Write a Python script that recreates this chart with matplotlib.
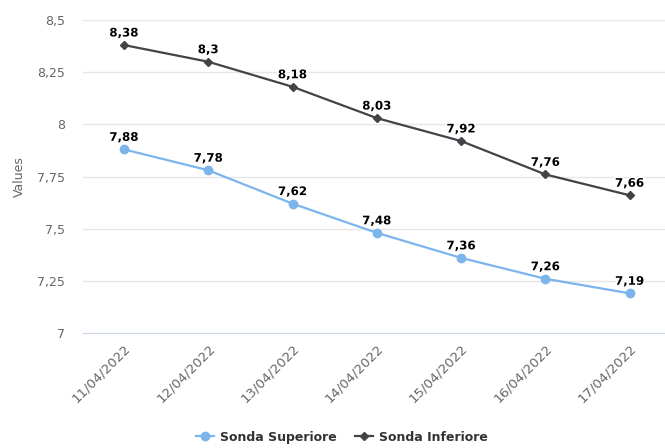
import matplotlib.pyplot as plt
import matplotlib.patheffects as pe
from matplotlib.lines import Line2D

dates = ["11/04/2022", "12/04/2022", "13/04/2022", "14/04/2022",
         "15/04/2022", "16/04/2022", "17/04/2022"]
superiore = [7.88, 7.78, 7.62, 7.48, 7.36, 7.26, 7.19]
inferiore = [8.38, 8.3, 8.18, 8.03, 7.92, 7.76, 7.66]
yticks = [7, 7.25, 7.5, 7.75, 8, 8.25, 8.5]

blue = "#7cb5ec"
dark = "#434348"

fig = plt.figure(figsize=(6.65, 4.48), dpi=100)
ax = fig.add_axes([83 / 665, 115 / 448, 582 / 665, 313 / 448])

x = list(range(len(dates)))
ax.plot(x, superiore, color=blue, lw=1.6, marker="o", ms=6, zorder=3)
ax.plot(x, inferiore, color=dark, lw=1.6, marker="D", ms=4.5, zorder=3)

outline = [pe.withStroke(linewidth=2.5, foreground="white")]
for xs, ys in [(x, superiore), (x, inferiore)]:
    for xi, yi in zip(xs, ys):
        lab = ("%g" % yi).replace(".", ",")
        ax.annotate(lab, (xi, yi), xytext=(0, 4), textcoords="offset points",
                    ha="center", va="bottom", fontsize=8.5, fontweight="bold",
                    color="black", path_effects=outline, zorder=4)

ax.set_xlim(-0.486, 6.42)
ax.set_ylim(7, 8.5)
ax.set_yticks(yticks)
ax.set_yticklabels([("%g" % t).replace(".", ",") for t in yticks])
ax.set_xticks(x)
ax.set_xticklabels(dates, rotation=45, ha="right", rotation_mode="anchor")

ax.grid(axis="y", color="#e6e6e6", lw=1)
ax.set_axisbelow(True)
for s in ["top", "right", "left"]:
    ax.spines[s].set_visible(False)
ax.spines["bottom"].set_color("#ccd6eb")
ax.tick_params(axis="y", length=0, pad=13, labelsize=9, labelcolor="#666666")
ax.tick_params(axis="x", length=0, pad=6, labelsize=9.5, labelcolor="#666666")
ax.set_ylabel("Values", color="#666666", fontsize=9, labelpad=8)

handles = [
    Line2D([], [], color=blue, lw=1.6, marker="o", ms=6),
    Line2D([], [], color=dark, lw=1.6, marker="D", ms=4.5),
]
fig.legend(handles, ["Sonda Superiore", "Sonda Inferiore"], loc="center",
           bbox_to_anchor=(342 / 665, 11 / 448), ncol=2, frameon=False,
           prop={"weight": "bold", "size": 9}, labelcolor="#333333",
           handlelength=1.45, columnspacing=1.4, handletextpad=0.5)

fig.savefig("out.png", dpi=100)
